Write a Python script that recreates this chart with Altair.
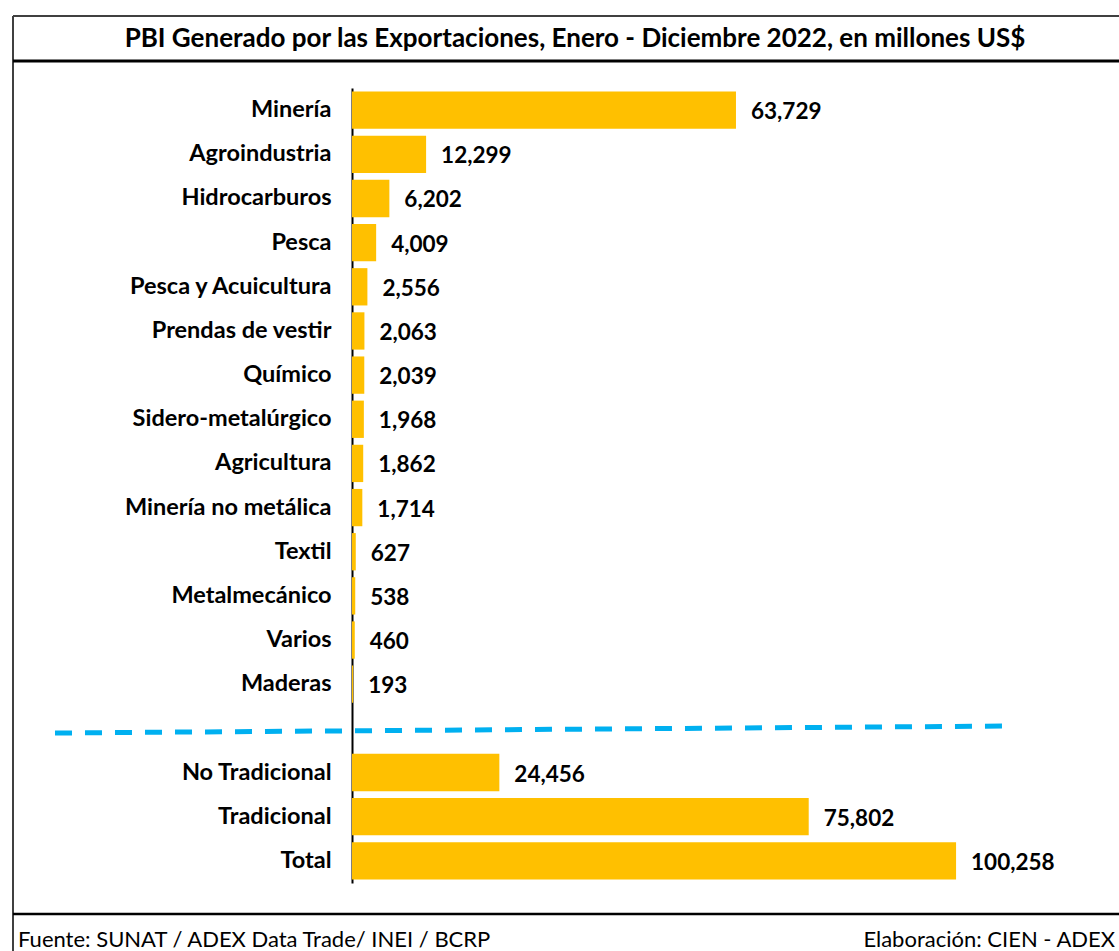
import altair as alt
import pandas as pd

categories = ["Minería", "Agroindustria", "Hidrocarburos", "Pesca", "Pesca y Acuicultura",
              "Prendas de vestir", "Químico", "Sidero-metalúrgico", "Agricultura",
              "Minería no metálica", "Textil", "Metalmecánico", "Varios", "Maderas",
              "No Tradicional", "Tradicional", "Total"]
values = [63729, 12299, 6202, 4009, 2556, 2063, 2039, 1968, 1862, 1714,
          627, 538, 460, 193, 24456, 75802, 100258]
separator = " "
title_text = "PBI Generado por las Exportaciones, Enero - Diciembre 2022, en millones US$"
source_text = "Fuente: SUNAT / ADEX Data Trade/ INEI / BCRP"
credit_text = "Elaboración: CIEN - ADEX"

FONT = "Lato"
domain_order = categories[:14] + [separator] + categories[14:]

df = pd.DataFrame({"cat": categories, "val": values})
one = pd.DataFrame({"k": [0]})

W, H = 767, 795
LEFT, TOP = 352, 88

y_enc = alt.Y("cat:N", sort=domain_order,
              scale=alt.Scale(domain=domain_order, paddingInner=0.155, paddingOuter=0.08),
              axis=alt.Axis(title=None, ticks=False, domainColor="black", domainWidth=2,
                            labelFontSize=23.5, labelFontWeight="bold", labelColor="black",
                            labelFont=FONT, labelPadding=21, grid=False, labelLimit=400))
x_enc = alt.X("val:Q", scale=alt.Scale(domain=[0, 127300], nice=False, zero=True), axis=None)

base = alt.Chart(df)
bars = base.mark_bar(color="#FFC000").encode(x=x_enc, y=y_enc)
labels = base.mark_text(align="left", baseline="middle", dx=15, dy=2, fontSize=22.5,
                        fontWeight="bold", font=FONT, color="black").encode(
    x=x_enc, y=alt.Y("cat:N", sort=domain_order), text=alt.Text("val:Q", format=",.0f"))


def rule(x1, y1, x2, y2, **kw):
    return alt.Chart(one).mark_rule(**kw).encode(
        x=alt.value(x1 - LEFT), x2=alt.value(x2 - LEFT),
        y=alt.value(y1 - TOP), y2=alt.value(y2 - TOP))


def text(s, x, y, **kw):
    return alt.Chart(one).mark_text(baseline="middle", font=FONT, color="black", **kw).encode(
        x=alt.value(x - LEFT), y=alt.value(y - TOP), text=alt.value(s))


deco = [
    rule(13, 16, 1119, 16, color="#404040", strokeWidth=2),
    rule(13, 16, 13, 951, color="#404040", strokeWidth=2),
    rule(13, 61, 1119, 61, color="black", strokeWidth=3),
    rule(13, 914, 1119, 914, color="black", strokeWidth=2.5),
    rule(55, 733, 1011, 726, color="#00B0F0", strokeWidth=5, strokeDash=[17, 13]),
    text(title_text, 575, 39, align="center", fontSize=26, fontWeight="bold"),
    text(source_text, 18, 940, align="left", fontSize=22),
    text(credit_text, 1115, 940, align="right", fontSize=22),
]

chart = alt.layer(bars, labels, *deco).properties(
    width=W, height=H,
    autosize=alt.AutoSizeParams(type="none"),
    padding={"left": LEFT, "top": TOP, "right": 0, "bottom": 951 - TOP - H},
    background="white",
).configure_view(stroke=None)

chart.save("out.html", embed_options={"renderer": "svg", "actions": False})
